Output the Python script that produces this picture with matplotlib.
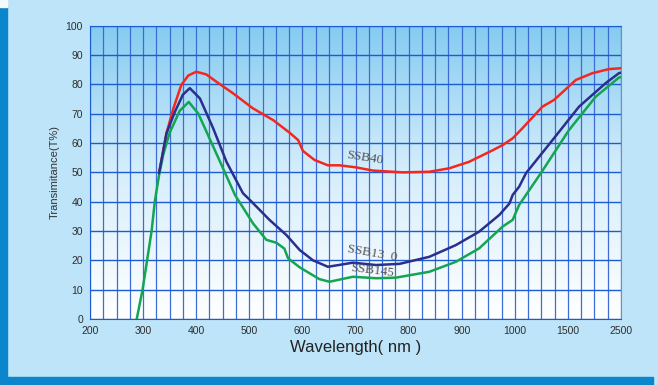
import numpy as np
import matplotlib
matplotlib.use("Agg")
import matplotlib.pyplot as plt
from matplotlib.patches import Rectangle
from matplotlib.colors import LinearSegmentedColormap

# x axis is not linear: each label sits the same distance apart
tick_waves = [200, 300, 400, 500, 600, 700, 800, 900, 1000, 1500, 2500]
tick_pos = list(range(len(tick_waves)))
y_ticks = list(range(0, 101, 10))

# SSB40 (red)
red_w = [330, 344, 357, 372, 385, 400, 419, 438, 469, 507, 545, 576, 592, 601, 623, 648,
         670, 701, 733, 789, 839, 877, 914, 958, 977, 996, 1071, 1260, 1370, 1650, 1960,
         2270, 2500]
red_t = [49.7, 63.3, 71.8, 79.8, 83.0, 84.3, 83.4, 80.9, 77.0, 71.8, 67.8, 63.5, 61.0, 57.3,
         54.2, 52.4, 52.4, 51.7, 50.6, 50.0, 50.2, 51.4, 53.6, 57.5, 59.3, 61.6, 65.0, 72.4,
         74.7, 81.5, 83.8, 85.2, 85.5]

# SSB130 (blue)
blue_w = [330, 344, 360, 375, 388, 407, 432, 457, 488, 501, 538, 570, 595, 620, 648, 695,
          739, 783, 839, 889, 933, 971, 990, 996, 1041, 1105, 1355, 1710, 2210, 2460, 2500]
blue_t = [49.7, 63.3, 70.7, 76.5, 78.7, 75.2, 65.0, 53.6, 42.9, 40.6, 33.8, 28.6, 23.5,
          20.0, 17.8, 19.2, 18.4, 18.8, 21.2, 25.2, 29.8, 35.5, 39.4, 42.3, 45.1, 49.7,
          61.0, 72.4, 80.4, 83.8, 84.0]

# SSB145 (green)
green_w = [288, 299, 316, 322, 330, 338, 350, 369, 386, 404, 419, 444, 473, 507, 532, 551,
           566, 573, 595, 632, 651, 695, 739, 776, 839, 889, 933, 977, 996, 1041, 1245,
           1520, 2024, 2460, 2500]
green_t = [0, 10, 30, 40, 49, 56, 63.5, 71, 74, 70, 64, 54, 42.3, 32.6, 27, 26, 24, 20.7,
           17.6, 13.6, 12.7, 14.4, 13.9, 14.1, 16.1, 19.5, 24.1, 31.5, 33.8, 38.9, 49.7,
           64.4, 75.8, 82.3, 82.5]


def forward(x):
    return np.interp(x, tick_waves, tick_pos)


def inverse(p):
    return np.interp(p, tick_pos, tick_waves)


fig = plt.figure(figsize=(6.58, 3.85), dpi=100, facecolor="#bde4f8")
fig.patches.append(Rectangle((0, 0), 7 / 658, 1 - 7 / 385, transform=fig.transFigure,
                             color="#0b86cc", zorder=0))
fig.patches.append(Rectangle((0, 0), 653 / 658, 8 / 385, transform=fig.transFigure,
                             color="#0b86cc", zorder=0))
fig.patches.append(Rectangle((0, 1 - 7 / 385), 7 / 658, 7 / 385, transform=fig.transFigure,
                             color="#f4fbff", zorder=0))

rect = [90 / 658, 1 - 319 / 385, 531 / 658, 293.3 / 385]

# gradient behind the plot
bg = fig.add_axes(rect, zorder=0)
cmap = LinearSegmentedColormap.from_list("bg", ["#ffffff", "#d6eefb", "#84cbf1"])
bg.imshow(np.linspace(0, 1, 256).reshape(-1, 1)[::-1], aspect="auto", cmap=cmap,
          extent=[0, 1, 0, 1])
bg.axis("off")

ax = fig.add_axes(rect, zorder=1)
ax.patch.set_alpha(0)
ax.set_xscale("function", functions=(forward, inverse))
ax.set_xlim(200, 2500)
ax.set_ylim(0, 100)

line = dict(lw=1.8, solid_joinstyle="round", solid_capstyle="round")
ax.plot(red_w, red_t, color="#f22820", zorder=3, **line)
ax.plot(green_w, green_t, color="#13a550", zorder=4, **line)
ax.plot(blue_w, blue_t, color="#2b2f8c", zorder=5, **line)

ax.set_xticks(tick_waves)
ax.set_xticklabels([str(w) for w in tick_waves])
minor = inverse(np.arange(0, tick_pos[-1] + 0.01, 0.25))
ax.set_xticks(minor, minor=True)
ax.set_yticks(y_ticks)
ax.tick_params(which="both", length=0, labelsize=7.5, labelcolor="#2e2e2e", pad=5,
               labelfontfamily="Liberation Sans")
ax.grid(axis="x", which="both", color="#3c6cd4", lw=0.9, zorder=1)
ax.grid(axis="y", which="major", color="#1d5cd0", lw=1.0, zorder=1)
ax.set_axisbelow(True)
for side in ["left", "bottom", "top"]:
    ax.spines[side].set_color("#1d5cd0")
ax.spines["right"].set_color("#6f8fc0")

ax.set_xlabel("Wavelength( nm )", fontsize=12, family="Liberation Sans", color="#222222",
              labelpad=3)
ax.set_ylabel("Transimitance(T%)", fontsize=8, family="Liberation Sans", color="#333333",
              labelpad=4)

lab = dict(family="Liberation Serif", fontsize=9.5, color="#555555", ha="center",
           va="center", zorder=6)
ax.text(717, 55, "SSB40", rotation=-9, **lab)
ax.text(732, 22.5, "SSB13  0", rotation=-10, **lab)
ax.text(732, 16.4, "SSB145", rotation=-7, **lab)

fig.savefig("out.png", dpi=100, facecolor=fig.get_facecolor())
